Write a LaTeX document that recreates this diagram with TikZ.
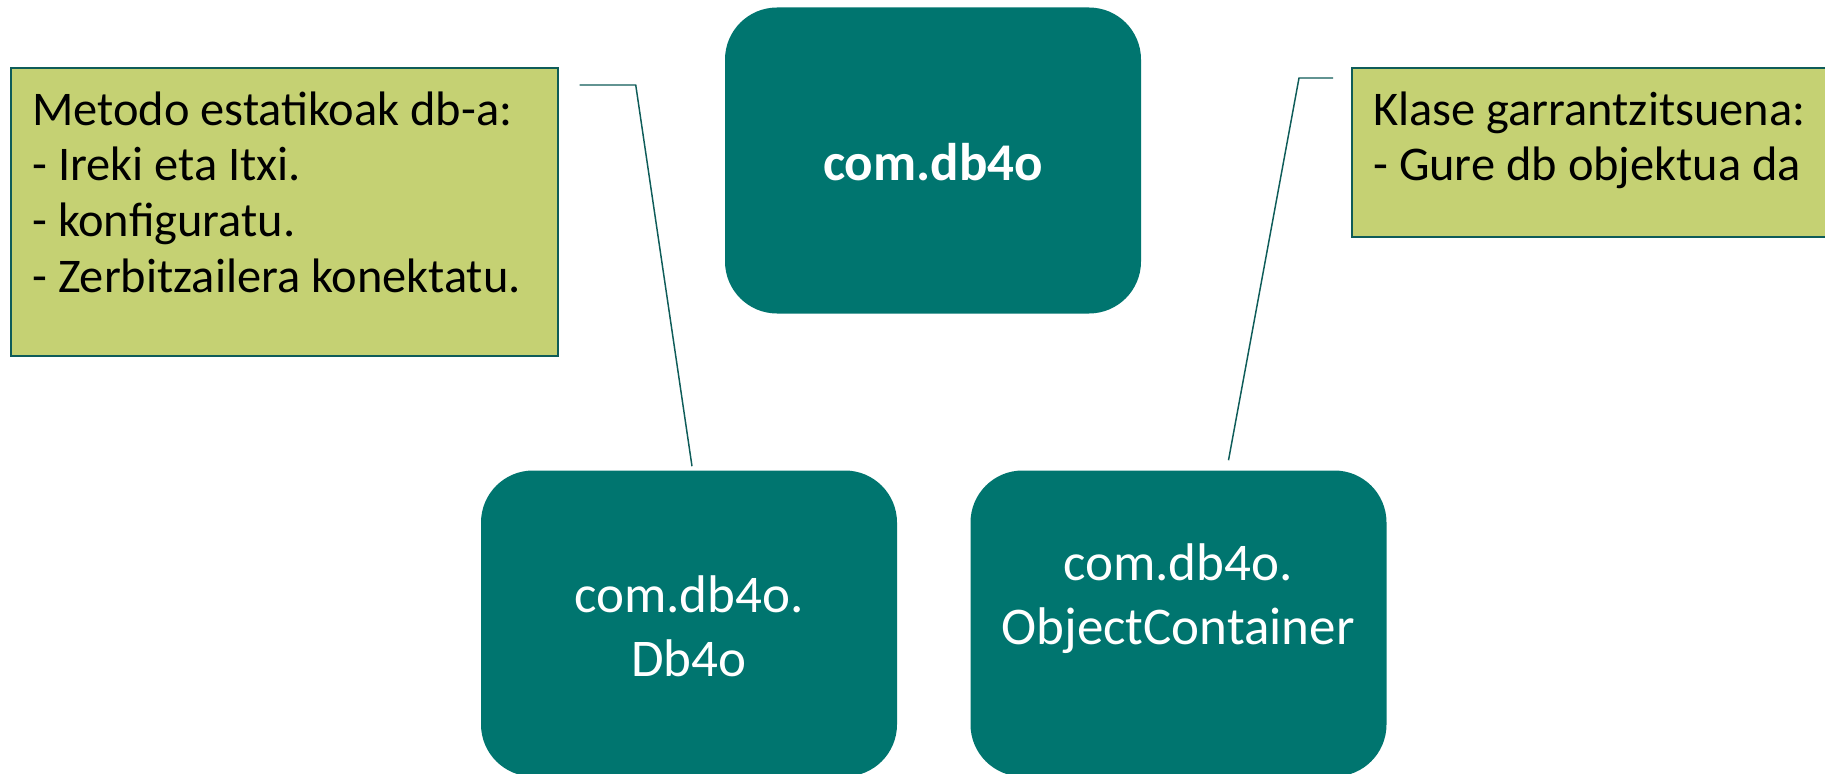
\documentclass[tikz,border=0pt]{standalone}
\usepackage{fontspec}
\setmainfont{Carlito}
\usetikzlibrary{calc}
\definecolor{boxteal}{RGB}{0,117,111}
\definecolor{notegreen}{RGB}{197,209,115}
\definecolor{lineteal}{RGB}{14,92,89}
\begin{document}
\begin{tikzpicture}[x=0.75pt,y=-0.75pt,
  pkgbox/.style={fill=boxteal, rounded corners=39pt, minimum width=312pt,
    minimum height=229.5pt, inner sep=0pt},
  pkgtext/.style={text=white, inner sep=0pt, align=center,
    font=\fontsize{39.75}{48}\selectfont},
  notebox/.style={draw=lineteal, line width=1.3pt, fill=notegreen,
    inner sep=0pt, anchor=north west},
  notetext/.style={text=black, inner sep=0pt, anchor=base west,
    text width=420pt, align=flush left, font=\fontsize{36.3}{42}\selectfont},
  callout/.style={draw=lineteal, line width=1.1pt}]
  \clip (0,0) rectangle (1825,774);
  \fill[white] (0,0) rectangle (1825,774);

  % package boxes
  \node[pkgbox] (root) at (933,160.5) {};
  \node[pkgbox] (db4o) at (689,623.5) {};
  \node[pkgbox] (objc) at (1178.5,623.5) {};
  \node[pkgtext, font=\fontsize{39.75}{48}\selectfont\bfseries] (roottxt) at (933,162) {com.db4o};
  \node[pkgtext] (db4otxt) at (689,626) {com.db4o.\\Db4o};
  \node[pkgtext] (objctxt) at (1178,598.5) {com.db4o.\\ObjectContainer};

  % notes
  \node[notebox, minimum width=410.25pt, minimum height=216pt] (lnote) at (10,67) {};
  \node[notetext] (lnotetxt) at (32,125)
    {Metodo estatikoak db-a:\\- Ireki eta Itxi.\\- konfiguratu.\\- Zerbitzailera konektatu.};
  \node[notebox, minimum width=375pt, minimum height=126.75pt] (rnote) at (1351,67) {};
  \node[notetext] (rnotetxt) at (1373,125)
    {Klase garrantzitsuena:\\- Gure db objektua da};

  % callout leaders
  \coordinate (la) at ($(lnote.north east)+(21,18)$);
  \coordinate (lb) at ($(la)+(56,0)$);
  \coordinate (lc) at ($(db4o.north)+(3,-4)$);
  \draw[callout] (la) -- (lb) -- (lc);
  \coordinate (ra) at ($(rnote.north west)+(-18,11)$);
  \coordinate (rb) at ($(ra)+(-34,0)$);
  \coordinate (rc) at ($(objc.north)+(50,-10)$);
  \draw[callout] (ra) -- (rb) -- (rc);
\end{tikzpicture}
\end{document}
